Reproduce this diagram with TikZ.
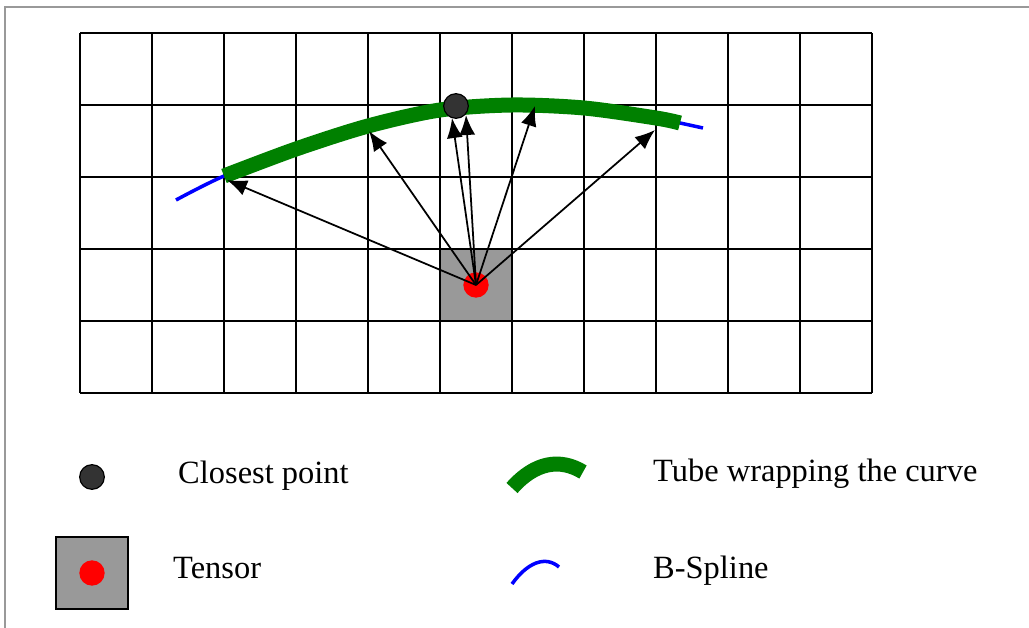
\documentclass[tikz,border=0pt]{standalone}
\usepackage{fontspec}
\setmainfont{Liberation Serif}
\usetikzlibrary{arrows.meta}
\definecolor{tubegreen}{rgb}{0, 0.5, 0}
\definecolor{cellgray}{gray}{0.6}
\definecolor{pointgray}{gray}{0.2}
\tikzset{
  gridline/.style={black, line width=1.3pt},
  tube/.style={tubegreen, line width=12.8pt},
  spline/.style={blue, line width=3pt},
  ray/.style={black, line width=1.5pt, -{Latex[length=0.6cm,width=0.48cm]}},
  closest/.style={circle, draw=black, line width=1pt, fill=pointgray, minimum size=0.74cm, inner sep=0},
  tensordot/.style={circle, fill=red, minimum size=0.76cm, inner sep=0},
  cell/.style={rectangle, fill=cellgray, minimum size=2.16cm, inner sep=0},
  legend/.style={anchor=base west, inner sep=0, font=\fontsize{27.7}{33}\selectfont}
}

\begin{document}
\begin{tikzpicture}[x=0.03cm, y=-0.03cm]
\useasboundingbox (0,0) rectangle (1029,628);
\draw[cellgray, line width=1.7pt] (5,628) -- (5,7) -- (1029,7);

% tensor cell under the grid
\node[cell] (cell) at (476,285) {};
\foreach \x in {0,...,11} {
  \draw[gridline] ({80+72*\x},33) -- ({80+72*\x},393);
}
\foreach \y in {0,...,5} {
  \draw[gridline] (80,{33+72*\y}) -- (872,{33+72*\y});
}

% spline and tube
\draw[spline] plot[smooth] coordinates {(176,200) (224,176) (296,149) (368,126) (440,110) (512,105) (584,108) (656,118) (680,123) (703,128)};
\draw[tube] plot[smooth] coordinates {(224,176) (296,149) (368,126) (440,110) (512,105) (584,108) (656,118) (680,123)};

\node[tensordot] (src) at (476,285) {};
\coordinate (t1) at (227,180);
\coordinate (t2) at (369,131);
\coordinate (t3) at (452,118);
\coordinate (t4) at (466,115);
\coordinate (t5) at (535,106);
\coordinate (t6) at (655,130);
\foreach \t in {t1,t2,t3,t4,t5,t6} {
  \draw[ray] (src.center) -- (\t);
}
\node[closest] (cp) at (456,106) {};

% legend
\node[closest] (lcp) at (92,477) {};
\node[legend] (lcptext) at (178,483) {Closest point};
\node[cell, draw=black, line width=1.3pt] (lcell) at (92,573) {};
\node[tensordot] (ldot) at (92,573) {};
\node[legend] (ltensor) at (173,578) {Tensor};
\draw[tube] (512,488) .. controls (535,462) and (560,458) .. (583,472);
\node[legend] (ltube) at (653,482) {Tube wrapping the curve};
\draw[spline] (512,584) .. controls (527,563) and (545,555) .. (559,567);
\node[legend] (lspline) at (653,578) {B-Spline};
\end{tikzpicture}
\end{document}
